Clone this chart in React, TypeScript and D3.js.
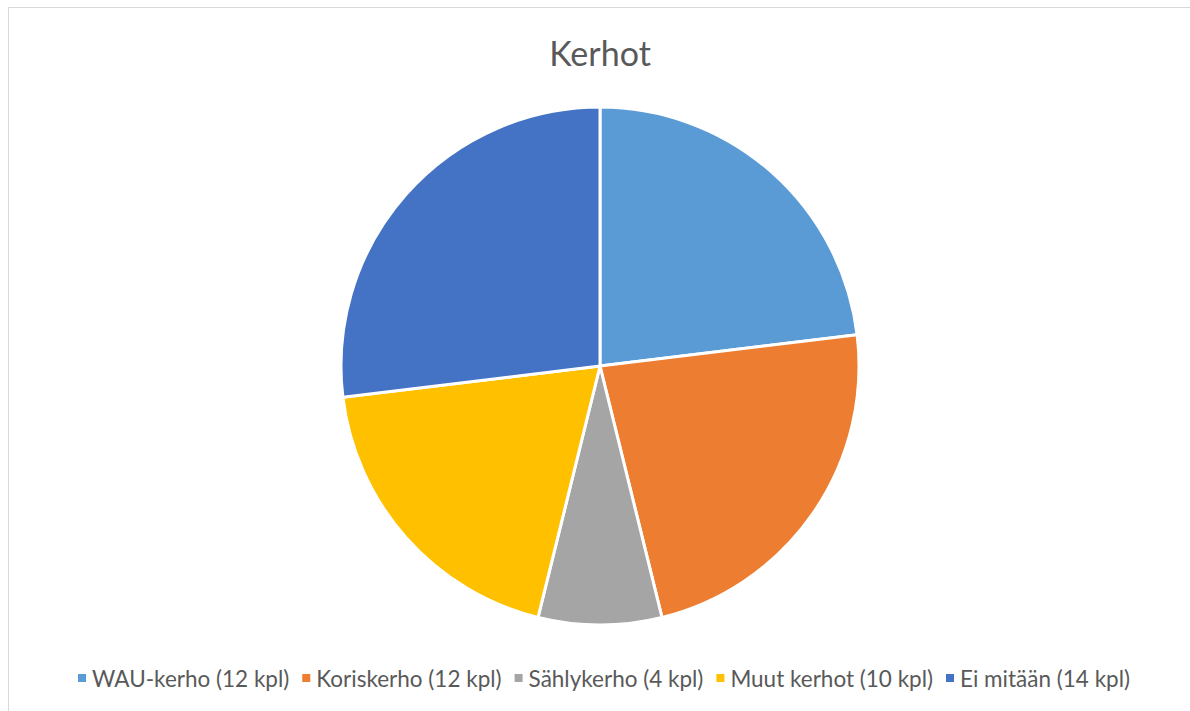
import React, { useEffect, useRef } from "react";
import * as d3 from "d3";

const categories = ["WAU-kerho (12 kpl)", "Koriskerho (12 kpl)", "Sählykerho (4 kpl)", "Muut kerhot (10 kpl)", "Ei mitään (14 kpl)"];
const values = [12, 12, 4, 10, 14];
const colors = ["#5B9BD5", "#ED7D31", "#A5A5A5", "#FFC000", "#4472C4"];
const title = "Kerhot";

const W = 1190, H = 711;
const cx = 600, cy = 366, R = 259;

export default function App() {
  const legendRef = useRef<SVGGElement>(null);

  const pie = d3.pie<number>().sort(null).value((d) => d)(values);
  const arc = d3.arc<d3.PieArcDatum<number>>().innerRadius(0).outerRadius(R);

  useEffect(() => {
    const g = d3.select(legendRef.current);
    g.selectAll("*").remove();
    const items = categories.map((c, i) => {
      const t = g.append("text")
        .attr("font-family", "Lato, 'Open Sans', sans-serif")
        .attr("font-size", 22.5)
        .attr("fill", "#595959")
        .attr("dominant-baseline", "central")
        .text(c);
      const w = (t.node() as SVGTextElement).getComputedTextLength();
      return { t, w, i };
    });
    const sq = 8, gap1 = 6, gap2 = 13;
    const total = items.reduce((s, it) => s + sq + gap1 + it.w, 0) + gap2 * (items.length - 1);
    let x = cx + 4 - total / 2;
    const y = 678;
    items.forEach((it) => {
      g.append("rect").attr("x", x).attr("y", y - sq / 2).attr("width", sq).attr("height", sq).attr("fill", colors[it.i]);
      x += sq + gap1;
      it.t.attr("x", x).attr("y", y);
      x += it.w + gap2;
    });
  }, []);

  return (
    <svg width={W} height={H} style={{ position: "absolute", left: 0, top: 0, background: "#fff" }}>
      <rect x={8.5} y={7.5} width={W} height={H} fill="#fff" stroke="#d9d9d9" strokeWidth={1} />
      <text x={cx} y={52} textAnchor="middle" dominantBaseline="central" fontFamily="Lato, 'Open Sans', sans-serif" fontSize={34} fill="#595959">{title}</text>
      <g transform={`translate(${cx},${cy})`}>
        {pie.map((d, i) => (
          <path key={i} d={arc(d) || ""} fill={colors[i]} stroke="#fff" strokeWidth={3} strokeLinejoin="round" />
        ))}
      </g>
      <g ref={legendRef} />
    </svg>
  );
}
